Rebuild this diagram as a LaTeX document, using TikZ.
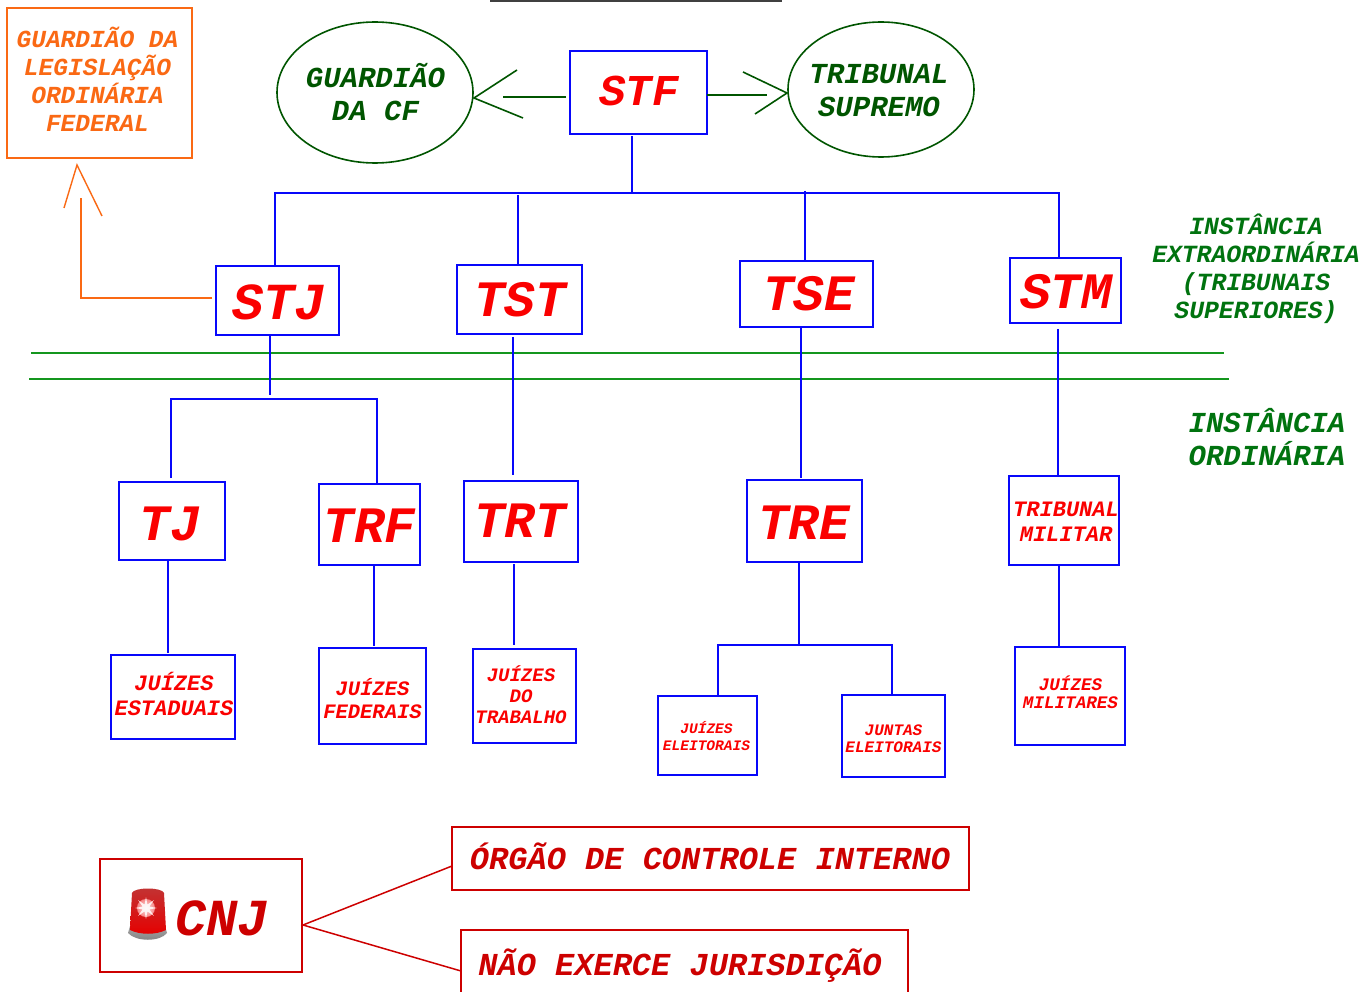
\documentclass[tikz,border=0pt]{standalone}
\usepackage{fontspec}
\usetikzlibrary{shapes.geometric}
\setmainfont{Liberation Mono}
\definecolor{cblue}{RGB}{8,8,250}
\definecolor{cred}{RGB}{250,0,0}
\definecolor{dred}{RGB}{205,0,0}
\definecolor{cgreen}{RGB}{0,85,0}
\definecolor{lgreen}{RGB}{20,150,30}
\definecolor{ttgreen}{RGB}{0,115,15}
\definecolor{corange}{RGB}{250,105,20}
\tikzset{
 x=1pt,y=-1pt,
 box/.style={draw=cblue,line width=1.6pt,inner sep=0pt,outer sep=0pt,anchor=north west},
 lnk/.style={draw=cblue,line width=1.5pt},
 grn/.style={draw=cgreen,line width=1.6pt},
 org/.style={draw=corange,line width=1.4pt},
 rd/.style={draw=dred,line width=1.5pt},
 lab/.style={inner sep=0pt,outer sep=0pt,align=center,text=cred},
 oval/.style={draw=cgreen,line width=1.6pt,ellipse,inner sep=0pt,outer sep=0pt},
}
% box: name, x1, y1, x2, y2
\newcommand{\bx}[6][]{\node[box,#1,minimum width=#4-#2,minimum height=#5-#3] (#6) at (#2,#3) {};}
% text: options, name, cx, cy, size, leading, text
\newcommand{\tx}[7][]{\node[lab,#1,font=\fontsize{#5}{#6}\selectfont\bfseries\itshape] (#2) at (#3,#4) {#7};}
\begin{document}
\begin{tikzpicture}
\useasboundingbox (0,0) rectangle (1361,992);
\fill[white] (0,0) rectangle (1361,992);
% top rule
\coordinate (ruleA) at (490,1); \coordinate (ruleB) at (782,1);
\draw[line width=1.6pt,black!75] (ruleA) -- (ruleB);
% orange box
\bx[draw=corange]{7}{8}{192}{158}{guardleg}
\tx[text=corange]{guardlegT}{97.5}{79}{24.5}{28}{GUARDIÃO DA\\LEGISLAÇÃO\\ORDINÁRIA\\FEDERAL}
% ellipses
\node[oval,minimum width=196,minimum height=141] (guardcf) at (375,92.5) {};
\tx[text=cgreen]{guardcfT}{375.5}{92}{29}{33}{GUARDIÃO\\DA CF}
\node[oval,minimum width=186,minimum height=135] (supremo) at (881,89.5) {};
\tx[text=cgreen]{supremoT}{879}{91}{29}{33}{TRIBUNAL\\SUPREMO}
% boxes
\bx{570}{51}{707}{134}{stf}      \tx{stfT}{639}{91}{44}{44}{STF}
\bx{216}{266}{339}{335}{stj}     \tx{stjT}{279}{302}{52}{52}{STJ}
\bx{457}{265}{582}{334}{tst}     \tx{tstT}{520}{300}{51}{51}{TST}
\bx{740}{261}{873}{327}{tse}     \tx{tseT}{809}{294}{51}{51}{TSE}
\bx{1010}{258}{1121}{323}{stm}   \tx{stmT}{1066}{292}{51}{51}{STM}
\bx{119}{482}{225}{560}{tj}      \tx{tjT}{170.5}{524}{51}{51}{TJ}
\bx{319}{484}{420}{565}{trf}     \tx{trfT}{369.5}{526}{51}{51}{TRF}
\bx{464}{481}{578}{562}{trt}     \tx{trtT}{520}{521}{51}{51}{TRT}
\bx{747}{480}{862}{562}{tre}     \tx{treT}{804}{523}{51}{51}{TRE}
\bx{1009}{476}{1119}{565}{tmil}  \tx{tmilT}{1066}{522}{22}{25}{TRIBUNAL\\MILITAR}
\bx{111}{655}{235}{739}{jest}    \tx{jestT}{174}{694}{22}{25}{JUÍZES\\ESTADUAIS}
\bx{319}{648}{426}{744}{jfed}    \tx{jfedT}{372.5}{699}{20.5}{23}{JUÍZES\\FEDERAIS}
\bx{473}{649}{576}{743}{jtrab}   \tx{jtrabT}{521}{695}{19}{21}{JUÍZES\\DO\\TRABALHO}
\bx{658}{696}{757}{775}{jele}    \tx{jeleT}{706.5}{736}{14.5}{17}{JUÍZES\\ELEITORAIS}
\bx{842}{695}{945}{777}{junt}    \tx{juntT}{893.5}{739}{16}{17}{JUNTAS\\ELEITORAIS}
\bx{1015}{647}{1125}{745}{jmil}  \tx{jmilT}{1070.5}{692}{17.6}{18}{JUÍZES\\MILITARES}
% CNJ
\bx[draw=dred]{100}{859}{302}{972}{cnj}
\tx[text=dred]{cnjT}{222}{918}{52}{52}{CNJ}
\bx[draw=dred]{452}{827}{969}{890}{org1}
\tx[text=dred]{org1T}{710}{856}{32}{32}{ÓRGÃO DE CONTROLE INTERNO}
\bx[draw=dred]{461}{930}{908}{1000}{nexe}
\tx[text=dred]{nexeT}{680}{966}{32}{32}{NÃO EXERCE JURISDIÇÃO}
% siren
\path[top color=black!35,bottom color=black!50] (130,926) .. controls (138,932) and (158,932) .. (165,926) -- (167,933) .. controls (160,942) and (136,942) .. (128,933) -- cycle;
\path[top color=red!70!black!80!white,bottom color=red!90!black] (132,893) .. controls (134,887) and (162,887) .. (164,893) -- (166,930) .. controls (156,935) and (140,935) .. (130,930) -- cycle;
\shade[inner color=white,outer color=red!40!white,opacity=.85] (146,908) circle (9);
\node[star,star points=8,star point ratio=3,fill=white,inner sep=0pt,minimum size=22,opacity=.85] (flash) at (146,908) {};
% side labels
\tx[text=ttgreen]{inst1}{1256}{269}{24.7}{28}{INSTÂNCIA\\EXTRAORDINÁRIA\\(TRIBUNAIS\\SUPERIORES)}
\tx[text=ttgreen]{inst2}{1267}{437}{29}{33}{INSTÂNCIA\\ORDINÁRIA}
% green rules
\coordinate (g1a) at (31,353); \coordinate (g1b) at (1224,353);
\coordinate (g2a) at (29,379); \coordinate (g2b) at (1229,379);
\draw[draw=lgreen,line width=1.2pt] (g1a) -- (g1b);
\draw[draw=lgreen,line width=1.2pt] (g2a) -- (g2b);
% STF arrows
\coordinate (al) at (566,97); \coordinate (alE) at (503,97);
\coordinate (alA) at (517,70); \coordinate (alB) at (523,118);
\coordinate (alT) at (474,98);
\draw[grn] (al) -- (alE);
\draw[grn] (alA) -- (alT) -- (alB);
\coordinate (ar) at (708,95); \coordinate (arE) at (767,95);
\coordinate (arA) at (743,72); \coordinate (arB) at (755,114);
\coordinate (arT) at (787,93);
\draw[grn] (stf.east |- ar) -- (arE);
\draw[grn] (arA) -- (arT) -- (arB);
% orange connector
\coordinate (oTop) at (81,198); \coordinate (oCorner) at (81,298); \coordinate (oEnd) at (212,298);
\coordinate (oHA) at (64,208); \coordinate (oHT) at (77,165); \coordinate (oHB) at (102,216);
\draw[org] (oEnd) -- (oCorner) -- (oTop);
\draw[org] (oHA) -- (oHT) -- (oHB);
% bus
\coordinate (busL) at (275,193); \coordinate (busR) at (1059,193);
\coordinate (busT) at (632,193); \coordinate (busA) at (518,195); \coordinate (busB) at (805,191);
\draw[lnk,shorten <=2] (stf.south -| busT) -- (busT);
\draw[lnk] (stj.north -| busL) -- (busL) -- (busR) -- (stm.north -| busR);
\draw[lnk] (busA) -- (tst.north -| busA);
\draw[lnk] (busB) -- (tse.north -| busB);
% lower
\coordinate (stjB) at (270,395); \coordinate (tjL) at (171,399); \coordinate (trfL) at (377,399);
\draw[lnk] (stj.south -| stjB) -- (stjB);
\draw[lnk,shorten <=4] (tj.north -| tjL) -- (tjL) -- (trfL) -- (trf.north -| trfL);
\coordinate (x513) at (513,400); \draw[lnk,shorten <=3,shorten >=6] (tst.south -| x513) -- (trt.north -| x513);
\coordinate (x801) at (801,400); \draw[lnk,shorten >=2] (tse.south -| x801) -- (tre.north -| x801);
\coordinate (x1058) at (1058,400); \draw[lnk,shorten <=6] (stm.south -| x1058) -- (tmil.north -| x1058);
\coordinate (x168) at (168,600); \draw[lnk,shorten >=2.5] (tj.south -| x168) -- (jest.north -| x168);
\coordinate (x374) at (374,600); \draw[lnk,shorten >=2] (trf.south -| x374) -- (jfed.north -| x374);
\coordinate (x514) at (514,600); \draw[lnk,shorten <=2,shorten >=4] (trt.south -| x514) -- (jtrab.north -| x514);
\coordinate (x1059) at (1059,600); \draw[lnk] (tmil.south -| x1059) -- (jmil.north -| x1059);
\coordinate (treB) at (799,645); \coordinate (jL) at (718,645); \coordinate (jR) at (892,645);
\draw[lnk] (tre.south -| treB) -- (treB);
\draw[lnk] (jele.north -| jL) -- (jL) -- (jR) -- (junt.north -| jR);
% cnj lines
\coordinate (cnjP) at (303,925);
\draw[rd] (org1.west |- 0,866) -- (cnjP) -- (nexe.west |- 0,971);
\end{tikzpicture}
\end{document}
